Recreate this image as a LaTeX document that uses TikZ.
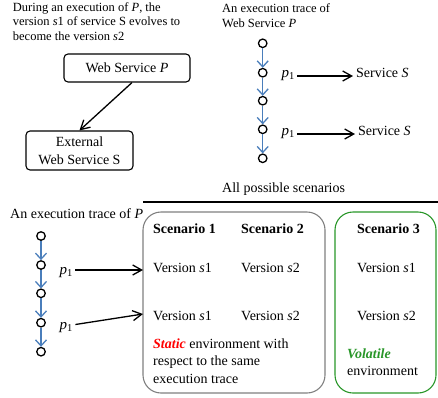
\documentclass[tikz,border=0pt]{standalone}
\usepackage{fontspec}
\setmainfont{Liberation Serif}
\usetikzlibrary{arrows.meta}
\definecolor{tblue}{RGB}{74,126,187}
\definecolor{tgray}{RGB}{128,128,128}
\definecolor{tgreen}{RGB}{40,150,40}
\begin{document}
\begin{tikzpicture}[x=1pt,y=-1pt,
  desc/.style={inner sep=0pt, align=left, anchor=north west, font=\fontsize{12.5}{14.8}\selectfont},
  txt/.style={inner sep=0pt, anchor=base west, font=\fontsize{14}{17.5}\selectfont},
  ptxt/.style={inner sep=0pt, anchor=base west, minimum width=18pt, font=\fontsize{15}{17.5}\selectfont},
  wbox/.style={draw, line width=1.1pt, rounded corners=4pt, font=\fontsize{14}{17.7}\selectfont, align=center, inner sep=0pt},
  sbox/.style={line width=1.1pt, rounded corners=18pt, inner sep=0pt, minimum height=181pt},
  dot/.style={circle, draw, line width=1.3pt, minimum size=8.5pt, inner sep=0pt},
  barr/.style={draw=tblue, line width=1.3pt, -{Straight Barb[length=6pt,width=11pt]}},
  karr/.style={line width=1.3pt, -{Straight Barb[length=9pt,width=10pt]}},
  ]
\useasboundingbox (0,0) rectangle (438,397);

% top left
\node[desc] (d1) at (12.7,2) {During an execution of \textit{P}, the\\version \textit{s}1 of service S evolves to\\become the version \textit{s}2};
\node[wbox, minimum width=126pt, minimum height=28pt] (wsP) at (127,68) {Web Service \textit{P}};
\node[wbox, minimum width=107pt, minimum height=39pt] (extS) at (79.5,150.5) {External\\Web Service S};
\draw[karr] ([xshift=5pt]wsP.south) -- (extS.north);

% top right
\node[desc, font=\fontsize{12.5}{15.5}\selectfont] (d2) at (222,3.2) {An execution trace of\\Web Service \textit{P}};
\foreach \n/\y in {1/43.3,2/72.7,3/100.7,4/129.3,5/158.3}
  \node[dot] (t\n) at (262.7,\y) {};
\foreach \a/\b in {1/2,2/3,3/4,4/5}
  \draw[barr] (t\a) -- (t\b);
\node[ptxt] (tp1) at (279,77) {\textit{p}\textsubscript{1}};
\node[ptxt] (tp2) at (279,135) {\textit{p}\textsubscript{1}};
\node[txt] (ts1) at (356,77) {Service \textit{S}};
\node[txt] (ts2) at (358,135) {Service \textit{S}};
\draw[karr] ([yshift=1pt]tp1.base east) -- ([shift={(-3pt,1pt)}]ts1.base west);
\draw[karr] ([yshift=1pt]tp2.base east) -- ([shift={(-3pt,1pt)}]ts2.base west);

% bottom
\node[txt] (all) at (222,192.5) {All possible scenarios};
\draw[line width=1.1pt] (143,202) -- (438,202);
\node[txt] (d3) at (10,218) {An execution trace of \textit{P}};
\foreach \n/\y in {1/236,2/265,3/293.3,4/322.7,5/351.7}
  \node[dot] (b\n) at (41,\y) {};
\foreach \a/\b in {1/2,2/3,3/4,4/5}
  \draw[barr] (b\a) -- (b\b);
\node[ptxt] (bp1) at (57,274) {\textit{p}\textsubscript{1}};
\node[ptxt] (bp2) at (57,329) {\textit{p}\textsubscript{1}};

\node[sbox, draw=tgray, minimum width=182pt] (sA) at (234,302.5) {};
\node[sbox, draw=tgreen, minimum width=101pt] (sB) at (385.5,302.5) {};
\coordinate (g1) at (143,270);
\coordinate (g2) at (143,314);
\draw[karr] ([yshift=4pt]bp1.base east) -- (g1);
\draw[karr] ([yshift=4.5pt]bp2.base east) -- (g2);

\node[txt, font=\fontsize{14}{17.5}\selectfont\bfseries] (sc1) at (153,233) {Scenario 1};
\node[txt, font=\fontsize{14}{17.5}\selectfont\bfseries] (sc2) at (241,233) {Scenario 2};
\node[txt, font=\fontsize{14}{17.5}\selectfont\bfseries] (sc3) at (357,233) {Scenario 3};
\node[txt] (v1a) at (153,272) {Version \textit{s}1};
\node[txt] (v2a) at (241,272) {Version \textit{s}2};
\node[txt] (v3a) at (357,272) {Version \textit{s}1};
\node[txt] (v1b) at (153,320) {Version \textit{s}1};
\node[txt] (v2b) at (241,320) {Version \textit{s}2};
\node[txt] (v3b) at (357,320) {Version \textit{s}2};
\node[txt, anchor=north west, align=left] (st) at (153,338.4) {\textcolor{red}{\textbf{\textit{Static}}} environment with\\respect to the same\\execution trace};
\node[txt, anchor=north west, align=left] (vo) at (347,348.2) {\textcolor{tgreen}{\textbf{\textit{Volatile}}}\\environment};
\end{tikzpicture}
\end{document}
